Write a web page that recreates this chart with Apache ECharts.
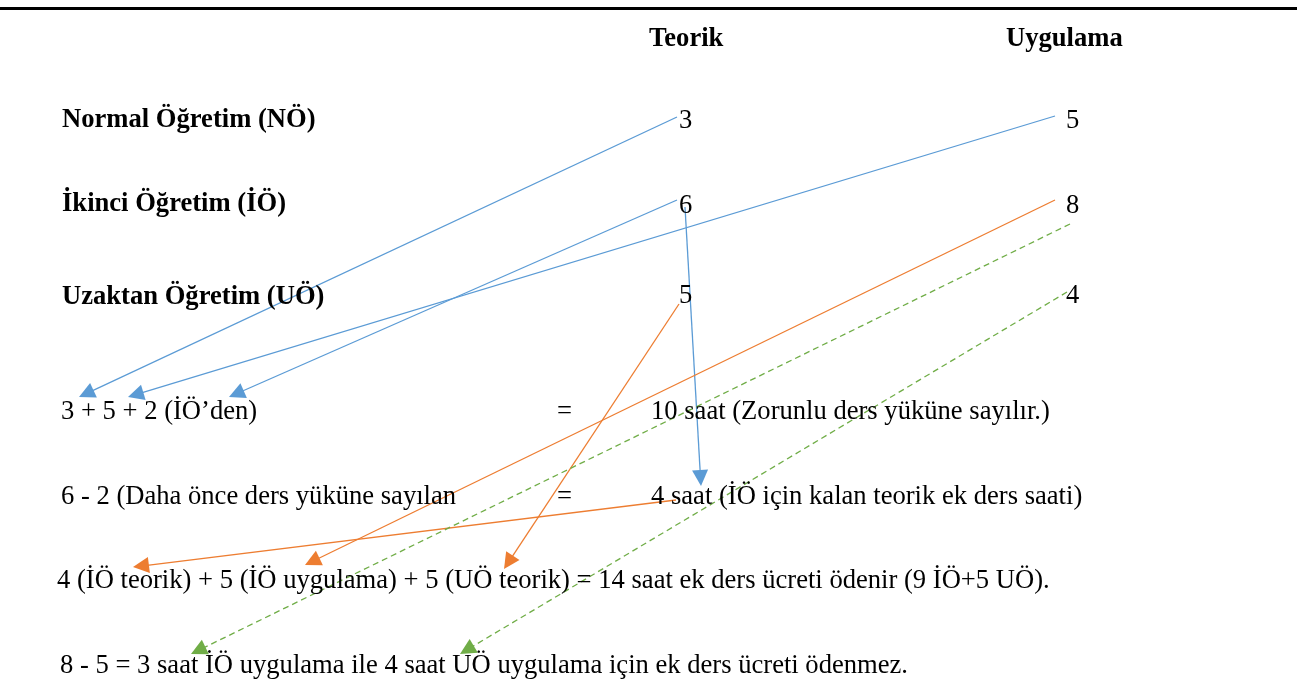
<!DOCTYPE html>
<html><head><meta charset="utf-8">
<script src="https://cdn.jsdelivr.net/npm/echarts@6/dist/echarts.min.js"></script>
<style>html,body{margin:0;padding:0;background:#fff}#c{width:1297px;height:695px}</style>
</head><body><div id="c"></div>
<script>
// ---- data ----
const columnHeaders = ['Teorik', 'Uygulama'];
const programNames = ['Normal Öğretim (NÖ)', 'İkinci Öğretim (İÖ)', 'Uzaktan Öğretim (UÖ)'];
const teorikHours = [3, 6, 5];
const uygulamaHours = [5, 8, 4];
const calcLeft = ['3 + 5 + 2 (İÖ’den)', '6 - 2 (Daha önce ders yüküne sayılan'];
const calcEquals = ['=', '='];
const calcRight = ['10 saat (Zorunlu ders yüküne sayılır.)', '4 saat (İÖ için kalan teorik ek ders saati)'];
const summaryLines = [
  '4 (İÖ teorik) + 5 (İÖ uygulama) + 5 (UÖ teorik) = 14 saat ek ders ücreti ödenir (9 İÖ+5 UÖ).',
  '8 - 5 = 3 saat İÖ uygulama ile 4 saat UÖ uygulama için ek ders ücreti ödenmez.'
];
// connections: [from anchor, to anchor]
const blueLinks = [['nöT', 'sum3'], ['nöU', 'sum5'], ['iöT', 'sum2'], ['iöT2', 'rest4']];
const orangeLinks = [['iöU', 'pay5a'], ['uöT', 'pay5b'], ['rest4out', 'pay4']];
const greenLinks = [['iöU2', 'no3'], ['uöU', 'no4']];

// ---- layout (axis units = pixels of the 1297x695 canvas) ----
const L = {
  ruleY: 8,
  headerY: 39, headerX: [649, 1006],
  rowX: 62, rowY: [120, 204, 297],
  numX: [679, 1066], numY: [121, 206, 296],
  calcX: [61, 557, 651], calcY: [412, 497],
  sumX: [57, 60], sumY: [581, 666],
  anchors: {
    'nöT': [677, 117], 'nöU': [1055, 116], 'iöT': [677, 200], 'iöT2': [685, 207],
    'iöU': [1055, 200], 'iöU2': [1070, 224], 'uöT': [679, 304], 'uöU': [1067, 292],
    'rest4out': [676, 500],
    'sum3': [79, 397], 'sum5': [128, 397], 'sum2': [229, 397], 'rest4': [701, 486],
    'pay4': [133, 567], 'pay5a': [305, 565], 'pay5b': [504, 569],
    'no3': [191, 654], 'no4': [460, 654]
  },
  arrow: 16
};
const FONT = 'Liberation Serif';
const FS = 26.6;

function textSeries(items, bold) {
  return {
    type: 'scatter', symbolSize: 0, silent: true, z: 5,
    data: items.map(it => ({ value: [it[0], it[1]], name: String(it[2]) })),
    label: {
      show: true, position: 'right', distance: 0, formatter: '{b}',
      color: '#000000', fontFamily: FONT, fontSize: FS, fontWeight: bold ? 'bold' : 'normal',
      verticalAlign: 'middle', align: 'left', textBorderWidth: 0, opacity: 1
    }
  };
}
function arrowSeries(links, color, dashed) {
  const half = L.arrow / 2;
  return {
    type: 'lines', coordinateSystem: 'cartesian2d', silent: true, z: 3,
    symbol: ['none', 'triangle'], symbolSize: L.arrow,
    lineStyle: { color: color, width: 1.3, type: dashed ? [6, 4] : 'solid', opacity: 1, curveness: 0 },
    itemStyle: { color: color },
    data: links.map(([a, b]) => {
      const p = L.anchors[a], q = L.anchors[b];
      const dx = q[0] - p[0], dy = q[1] - p[1], len = Math.hypot(dx, dy);
      const end = [q[0] - dx / len * half, q[1] - dy / len * half];
      return { coords: [p, end] };
    })
  };
}

const boldItems = [];
columnHeaders.forEach((t, i) => boldItems.push([L.headerX[i], L.headerY, t]));
programNames.forEach((t, i) => boldItems.push([L.rowX, L.rowY[i], t]));
const normalItems = [];
teorikHours.forEach((v, i) => normalItems.push([L.numX[0], L.numY[i], v]));
uygulamaHours.forEach((v, i) => normalItems.push([L.numX[1], L.numY[i], v]));
calcLeft.forEach((t, i) => normalItems.push([L.calcX[0], L.calcY[i], t]));
calcEquals.forEach((t, i) => normalItems.push([L.calcX[1], L.calcY[i], t]));
calcRight.forEach((t, i) => normalItems.push([L.calcX[2], L.calcY[i], t]));
summaryLines.forEach((t, i) => normalItems.push([L.sumX[i], L.sumY[i], t]));

const chart = echarts.init(document.getElementById('c'), null, { renderer: 'canvas' });
chart.setOption({
  animation: false,
  backgroundColor: '#fff',
  grid: { left: 0, right: 0, top: 0, bottom: 0 },
  xAxis: { type: 'value', min: 0, max: 1297, show: false },
  yAxis: { type: 'value', min: 0, max: 695, inverse: true, show: false },
  series: [
    {
      type: 'lines', coordinateSystem: 'cartesian2d', silent: true, z: 2,
      lineStyle: { color: '#000', width: 3, opacity: 1 },
      data: [{ coords: [[0, L.ruleY], [1297, L.ruleY]] }]
    },
    arrowSeries(blueLinks, '#5B9BD5', false),
    arrowSeries(orangeLinks, '#ED7D31', false),
    arrowSeries(greenLinks, '#70AD47', true),
    textSeries(boldItems, true),
    textSeries(normalItems, false)
  ]
});
</script></body></html>
